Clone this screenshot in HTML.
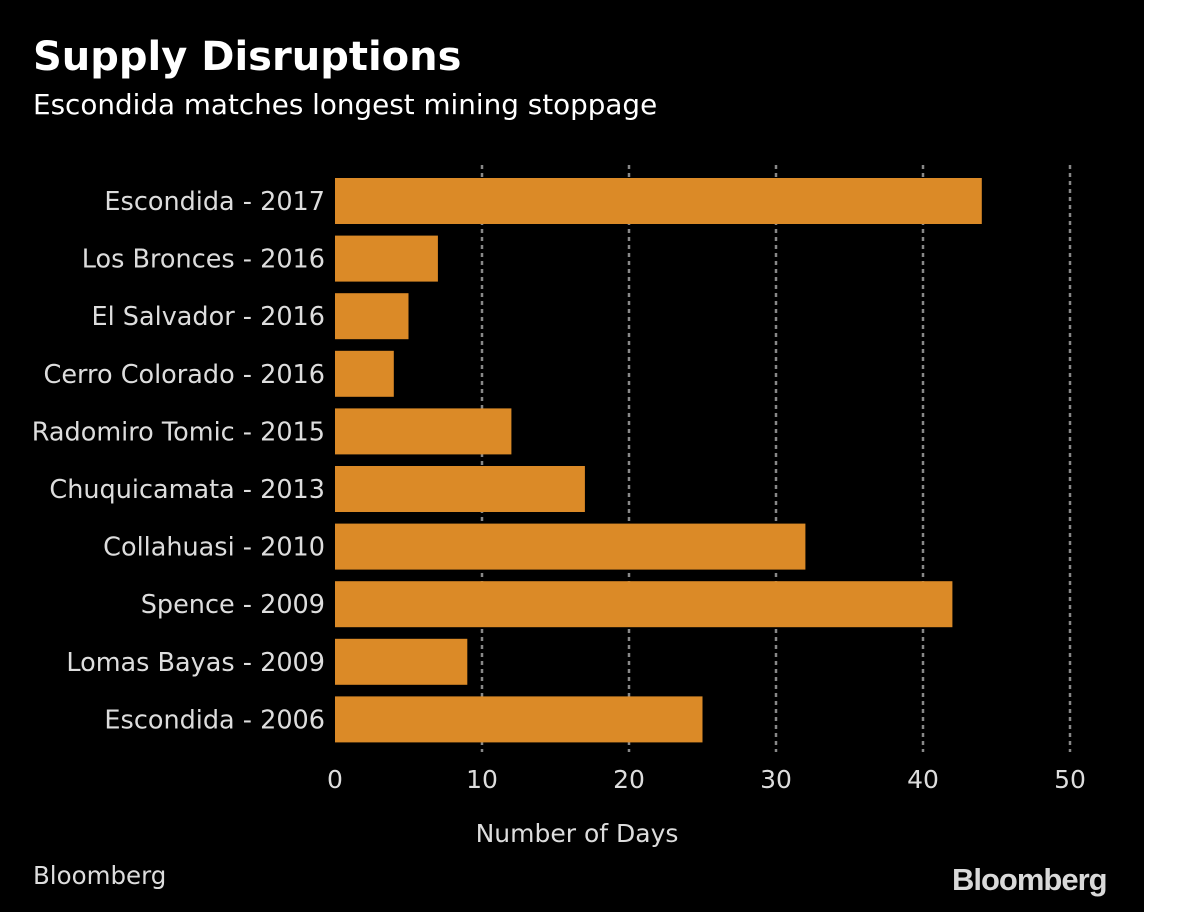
<!DOCTYPE html>
<html><head><meta charset="utf-8"><style>
html,body{margin:0;padding:0;background:#fff;}
#wrap{position:relative;width:1200px;height:912px;background:#fff;overflow:hidden;}
#bg{position:absolute;left:0;top:0;width:1144px;height:912px;background:#000;}
.t{position:absolute;font-family:"DejaVu Sans","Liberation Sans",sans-serif;color:#fff;white-space:nowrap;}
</style></head><body>
<div id="wrap">
<div id="bg"></div>
<div class="t" style="left:33px;top:34px;font-size:40px;font-weight:bold;">Supply Disruptions</div>
<div class="t" style="left:33px;top:88px;font-size:27.8px;">Escondida matches longest mining stoppage</div>
<svg id="plot" width="1144" height="912" style="position:absolute;left:0;top:0;"></svg>
<div class="t" style="left:33px;top:861px;font-size:24.5px;color:#ddd;">Bloomberg</div>
<div class="t" style="left:952px;top:862px;font-family:'Liberation Sans',sans-serif;font-size:31px;font-weight:bold;color:#d9d9d9;letter-spacing:-1px;">Bloomberg</div>
</div>
<script>
const categories=["Escondida - 2017","Los Bronces - 2016","El Salvador - 2016","Cerro Colorado - 2016","Radomiro Tomic - 2015","Chuquicamata - 2013","Collahuasi - 2010","Spence - 2009","Lomas Bayas - 2009","Escondida - 2006"];
const values=[44,7,5,4,12,17,32,42,9,25];
const ticks=[0,10,20,30,40,50];
const axisTitle="Number of Days";
const NS="http://www.w3.org/2000/svg";
const svg=document.getElementById('plot');
const FF='DejaVu Sans, Liberation Sans, sans-serif';
const x0=335,x1=1070,dmax=50;
const xs=v=>x0+(x1-x0)*v/dmax;
const top0=178,pitch=57.6,bh=46;
function mk(tag,attrs){const e=document.createElementNS(NS,tag);for(const k in attrs)e.setAttribute(k,attrs[k]);svg.appendChild(e);return e;}
ticks.forEach((t,i)=>{
  if(t>0){const g=mk('line',{x1:xs(t),x2:xs(t),y1:165,y2:752,stroke:'#888','stroke-width':2.5,'stroke-dasharray':'4,4'});
  
  }
  const l=mk('text',{x:xs(t),y:788,fill:'#ddd','font-size':25,'text-anchor':'middle','font-family':FF});
  l.textContent=t;
  
  
});
categories.forEach((c,i)=>{
  const y=top0+i*pitch;
  const r=mk('rect',{x:x0,y:y,width:xs(values[i])-x0,height:bh,fill:'#DB8A27'});
  
  
  const l=mk('text',{x:325,y:y+bh/2+9,fill:'#ddd','font-size':25.5,'text-anchor':'end','font-family':FF});
  l.textContent=c;
  
  
});
const at=mk('text',{x:577,y:842,fill:'#ddd','font-size':25,'text-anchor':'middle','font-family':FF});
at.textContent=axisTitle;


</script>
</body></html>
